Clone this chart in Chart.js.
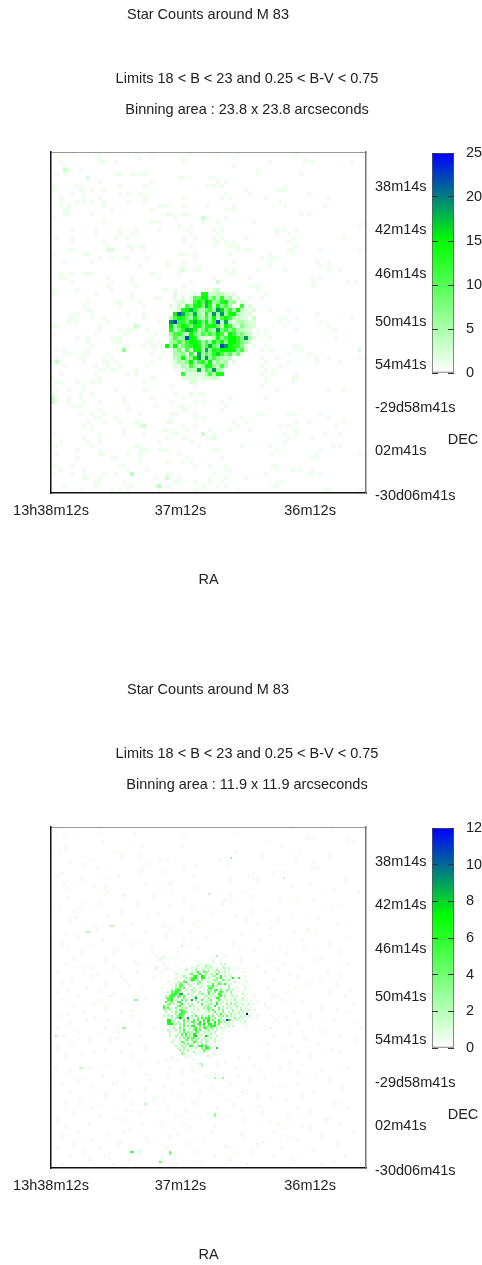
<!DOCTYPE html>
<html><head><meta charset="utf-8">
<script src="https://cdn.jsdelivr.net/npm/chart.js@4"></script>
<style>html,body{margin:0;padding:0;background:#fff;overflow:hidden}canvas{position:absolute}</style>
</head><body>
<canvas id="p1" width="482" height="590" style="left:0;top:0"></canvas>
<canvas id="b1" width="62" height="250" style="left:420px;top:140px"></canvas>
<canvas id="p2" width="482" height="590" style="left:0;top:675px"></canvas>
<canvas id="b2" width="62" height="250" style="left:420px;top:815px"></canvas>
<script>
const mainTitle="Star Counts around M 83";
const limitsTitle="Limits 18 < B < 23 and 0.25 < B-V < 0.75";
const binTitles=["Binning area : 23.8 x 23.8 arcseconds","Binning area : 11.9 x 11.9 arcseconds"];
const raLabels=["13h38m12s","37m12s","36m12s"];
const raTicks=[0,32.9,65.8];
const decLabels=["38m14s","42m14s","46m14s","50m41s","54m41s","-29d58m41s","02m41s","-30d06m41s"];
const decTicks=[8,18.75,29.75,41.75,52.5,63.25,74,85.25];
const colorMax=[25,12];
const colorStep=[5,2];

// Upper map: faint cells (count 1) per row of 23.8" bins, listed by column
const topFaint=[
[2,5,11,12,21,25,34,35,42,47,61,62],[12,22,33,46,64],[2,12,13,16,33,55,64,65,66,76],[3,46],[4,7,52,3],
[1,3,16,17,20,21,22,23,24,52,63],[9,32,33,40,41],[12,25,42,44],[0,6,7,17,23,24,39,41,43,59],[0,7,8,10,13,49,57,58,59],
[5,8,17,19,22,44,50,65],[2,8,12,23,24,33,43,45,54,70],[2,6,8,10,13,19,23,58],[2,4,13,27,28,29,33,39,46,59,69],[3,4,15,25,44,45,46],
[3,4,10,29,30,33,34,63,65],[0,31,39,44],[13,25,26,27,38,42,51,79],[32,35,78],[5,11,17,21,27,34,41,43,57,59,62],
[11,17,20,21,35,42,57,60],[1,5,16,19,33,36,41,43,49,61,74],[5,13,33,41,42,44,46,60],[14,19,20,22,23,35,41,45,46,47,61,62],[4,5,14,15,20,23,47,49,50,60,61,68,78],
[0,8,9,32,33,36,45,55,61],[12,15,18,19,24,36,53,55,56,57],[3,10,29,33,46,55,67,70],[22,29,33,37,55,68,70],[32,36,37,44,46,52,59,70,73],
[2,4,5,8,9,10,25,26,32,45,46],[2,3,14,20,27,41,50,66,68],[5,15,20,35,42,66,75,77],[14,21,33,50,51,52,66],[0,6,15,28,29,52],
[0,11,20,54],[20,26,27,50],[9,16,17,22,49],[8,17,23,49],[9,10,55,60],
[5,6,10,19,23,67],[4,5,10,13,23,58,59,62,76],[4,6,14,27,58,60,68],[0,1,12,21,22,59,70],[12,17,19,20,21,24,54,62,71,72],
[0,11,18,19,26,28,52,54],[6,9,15,16,17,25,55,72],[9,16,17,24,25,27,49],[10,18,19,23,25,26,54,61,62],[1,3,9,26,53,55,56,62,63],
[3,4,8,9,14,25,60,65],[1,7,8,13,15,27,53,57,67,70,78],[0,8,13,14,16,25,54,60,67,73],[3,11,14,17,24,53,58],[12,13,15,16,21,54,56],
[2,11,19,21,53,56,62],[0,12,25,26,54,61,62],[1,2,6,10,11,12,23,54,61],[0,8,30,53],[1,4,8,16,23,24,57,70,74],
[0,7,10,31,37,38],[0,4,7,18,25,33,45,54],[0,4,8,12,18,30,36,38,43],[5,6,7,19,26,32,33,44],[12,19,33,34,43],
[7,10,13,22,30,31,36,52,53,60,61,68],[11,12,16,30,36,38,48,70],[9,13,17,21,22,29,30,46,49,62,65,74],[8,10,22,23,33,36,47,58,60,72],[10,18,28,29,34,40,45,50,61,62],
[0,12,18,23,30,31,41,59,62,69,73],[8,12,29,33,34,39,40,41,60,66],[2,9,12,27,35,59],[1,10,21,22,37,48,55,71,73],[6,12,22,23,24,27,28,29,41,42,57,68],
[1,12,13,19,22,32,56,67,78],[6,15,16,22,34,43,66,67],[22,29,33,35],[0,5,17,18,36,40,44,56,57],[2,8,19,24,44,45,57,61,63,66],
[0,5,8,13,16,29,30,41,54,65,66,68],[8,9,12,26,29,32,40,44,49],[11,12,18,31,32,36,40,43,57,58],[3,11,19,20,26,29,38,42,44,56,57],[7,15,17,19,27,30,36,37,39,47,69,70,78]
];
// Upper map: brighter isolated cells [column,row,count]
const topBright=[[18,49,6],[20,80,4],[27,83,4],[23,68,3],[21,43,3],[14,24,2],[15,24,2],[3,4,3],[9,6,2],[29,81,3],[78,49,2],[1,52,3],[0,61,3],[0,62,3],[42,32,3],[38,16,3],[38,70,3],[41,71,2],[35,60,2],[33,29,2]];
// Upper map: core rows 34..58, columns 28..53, one base-36 count per column
const topCoreRow=34, topCoreCol=28;
const topCore=[
"...1.......1.23...........",
"...2.1.12.ee2344212.......",
"...2.2.2a9ff5a4c35.2.....1",
"...123.2cf9hf57de56.2.....",
"..2.3.b6ef7hd3f6b5..c.2...",
"...13dfid549c6jg6c5f4212..",
"...fmib7i63d5j5j6ef5322...",
"..4bfd85f64b5f3bfb5322.3..",
"..jmcc7fif8f6dm4i3245322..",
"..g5bfd7fe6deea3fc427432..",
"..e48dihe38e85j8c7b5432.1.",
"..6bc64f85b6c7fb3fc5843...",
"..4b57mfd32214e6bffc7j52..",
"..57b6cfec4b5f8f6ffc862...",
".f4f38bdfd5bia7mjfdc72.1..",
"...582b3ef4i6ecfffe7b3....",
"...5572c2i5b6dgb6a382.....",
"...45f37fj6j6b6534........",
"..12547f4bd5f3645.2.......",
"...2153b546ee63b4.........",
"...1.2444i3b7j64..........",
".....c122225b4ee..........",
".....2222122232...........",
".......22.1...............",
"........1................."
];

// Lower map: faint cells of 11.9" bins, [row, column, column, ...]
const lowFaint=[
[0,5,24,71,122],[1,142],[3,25,42,68,93],[5,6,67,130,133],[6,151],[7,26,109,153],[9,46,66,117],[10,7],[12,4,93,33,126],[14,35,44,107,141],[15,59],[16,20,55,85,124],[17,9,133],[18,16,49,90],[19,73],[20,23,67,132,135],
[21,46],[22,44,57,113,118],[23,5,102],[24,2,34,72,100],[25,29],[26,15,91,104,149],[27,61],[28,6,47,60,131],[29,22,122],[30,8,27,73,112],[31,143],[32,28,61,97,156],[33,37],[34,36,52,91,101],[35,8,125],
[36,67,88,116,133],[37,17],[38,24,43,87,124],[39,60,146],[40,4,14,71,142],[41,109],[42,11,35,82,102],[43,54],[44,28,49,93,122],[45,12,135],[46,9,66,99,115],[47,75],[48,41,72,104,145],[49,21,57],[50,2,23,60,111],
[51,86,130],[52,48,70,123,134],[53,7,96],[54,13,37,58,112],[55,78,150],[56,26,67,105,127],[57,44],[58,5,40,92,141],[59,20,116],[60,8,51,74,128],[61,33,103],[62,15,31,64,147],[63,119],[65,61,137],[66,11,27,54,110,134],
[67,42],[68,7,44,118,151],[69,21,104],[70,16,31,115,126],[71,140],[72,3,43,108,139],[73,23,121],[74,20,35,125,147],[75,52],[76,10,37,113],[77,136],[78,5,27,130,145],[79,39],[80,18,45,109,124],[81,8,152],
[82,3,24,120,141],[83,31,113],[84,13,30,112,149],[85,47],[86,6,37,117,132],[87,25,127],[88,21,44,108,153],[89,11],[90,27,110,137],[91,41,145],[92,16,35,123,150],[93,8],[94,4,41,112,131],[95,22,119],[96,18,29,114,143],
[97,37,155],[98,9,44,125],[99,108],[100,3,27,52,111,157],[101,136],[102,13,34,121,139],[103,24],[104,6,45,113,147],[105,33,128],[106,19,30,129,155],[107,11],[108,10,39,110,135],[109,122],[110,3,48,118],[111,27,142],
[112,22,35,125,147],[113,15],[114,7,41,70,110,131],[115,100],[117,54,88],[118,14,44,76,84,121],[119,29,103],[120,2,19,60,93,116,151],[121,71,137],[122,9,37,66,105,125],[123,48,83],[124,0,26,59,78,95,134],[125,17,108],
[126,13,50,73,100,141],[127,33,90],[128,5,31,66,91,125],[129,57,116],[130,21,47,82,112,148],[131,39,99],[132,9,61,75,97,133],[133,28,86],[134,27,37,65,104,127],[135,52,111],[136,14,57,89,119],[137,71,146],[138,7,41,73,92,143],
[139,24,105],[140,21,59,84,125,151],[141,38,96],[142,11,45,68,107,131],[143,79],[144,25,63,89,120],[145,33,140],[146,3,37,75,98,139],[147,56,110],[148,19,46,67,115,146],[149,83,127],[150,7,55,70,118,131],[151,39],
[152,13,36,81,113,153],[153,64,96],[154,5,29,60,97,137],[155,48,120],[156,21,49,77,125],[157,35,107],[158,11,34,69,104,145],[159,88],[160,3,25,58,89,117],[161,44,133],[162,16,45,73,101,132],[163,29,93],[164,9,27,83,113,149],
[165,56,122],[166,19,39,67,91,123],[167,75,143],[168,5,31,63,99,137,157]
];
// Lower map: brighter isolated cells [column,row,count]
const lowBright=[[30,49,2],[31,49,2],[18,52,2],[19,52,2],[37,100,3],[36,100,3],[40,162,5],[41,162,5],[55,167,5],[60,162,4],[60,163,4],[83,143,3],[83,144,3],[47,138,3],[48,138,2],[42,86,3],[43,86,3],[66,59,2],[84,64,3],[91,15,3],[118,25,2],[80,33,2],[2,104,3],[83,125,3],[87,125,3],[14,120,2],[15,120,2],[75,118,2],[76,118,2],[76,119,2]];
// Lower map: core rows 64..116, columns 50..105, one base-36 count per column
const lowCoreRow=64, lowCoreCol=50;
const lowCore=[
"...1...1..............................1................",
".....1.1.....1.........................................",
"......1.........................1...1.........1........",
"................1.......1.......1......................",
".......1.................1..1.1.....2.2................",
"....1........1.......1..2..13.12..1..1.................",
"...2.....1........1..1.2..1.2.12..1..22.2..1.1.........",
"........1.........2..1.3..12..2.1.31..1.1..............",
"......1..........1...2.26..532...2.3.12.1.......1......",
".............2..1.1.34..36..3..22.51..1.1...............",
"...............1.3...256..75..1.23..6.2..2......1......",
".............1..1.3.2467..66..2...326..1.1...6.........",
".............1...2..366.3.3..1..233..42.3.......1......",
".........1..1.22.55..2..34...2.1.2.32..2...2.....1.....",
".............2.44..3..1.4.1...1.5.254..1.1.....1.......",
"...........1.2.55...2...1.2..3.36.2...1.3.......1..1...",
"......1......334.5.1..2..2.1..553...2...3.1.1...1......",
"...........3.565..2..3.2...1.3.4.56.4..42.2.....1......",
".........2.4465.2...1.3..3...35..4.363.2.3..1..1.......",
"..........2566.29..3.1..2.42..5.3..65.2..21....2.1.....",
"........2.566.55.5...2.3.1..3..2.2.46.3..12.2...1....1.",
"........3556..3..4.1..2.1..2.23..165..2..1.2...2....1..",
".........556.2..5.4..9.3..5..2.4...52..2.1.3.1.2.1.....",
"........5.25..55..2.1...3.1.3..2..42.2.1.2..2.1..1.1..1",
".........34.2..36..2.3..1.5..2.3..1.2..3.3.3.1.2..2.1..",
".......5.3...135.2..4.2...2.3.3..6.1.2..2.1.3..1.1.....",
".......625.1.3..2.4...2.2..3.5.3...4.2.3.2..2.2.1..1...",
".......22.3..2.553.1..1.2...2.4.5..3.3..1.3.1.2.1.2..1.",
"........2..2.3.2653..2...1..1.2..5.1.4..2.2..2.2.2.....",
".......1.2...3.654.1..2....1.1..2.3.6.2..3.2.2.1.2.1...",
".......2.2.3..555..1.3.5..3.1.5.4..3.4.5.2.1..2.2.2...1",
"........1..2.3395..3.2..4.6.6.62.4..3.1..1.3.2.2.1..1..",
".........77.2..1.5.4..5.5..6.77.5..6.3.1.2..2.1.1......",
".........77.2.3..4.3.55..7.5.76..7.54.3.1.1...1.2......",
".........66..3.3.4..2.3.56.7..67.6.5.1.2.1.....1.......",
"............2..2.5.4.66..4.5.4.666.2..1.2.2......1.....",
"..........1.3..4.3..2.36.4.65..43.2.2.1.........1......",
".........2...3.2.6..1.46.5..3.3.2.2..1.................",
"..........2..1.3.5.4.3.54..2.2.1.2......1..............",
"..........1...2.5.6.3.74..2..1.3.1..1..................",
"..........2..3..4.5.3.68.2...3....2....................",
".............1.2.4.6.45.3..2.1.2.1.....................",
"............2..2..43.4.4..2.3.1..2.....................",
"...........2..1.53.2..63.2..2.1..2.....................",
"............1..2.3.4.3..2.4.2..1.......................",
".............2..3.2.64..3.5.6.2..1.....................",
"..............2..3...1.3..4.67.2..1....................",
"...............3.2.3.1...1.53.2........................",
"................3..1..3.1..3...........................",
"................32.....1.1.......1.....................",
"..................1..........2.........................",
"...........1......1..........................1.........",
"........1.....1......1................................."
];
// Lower map: notable high cells [column,row,count]
const lowPeak=[[92,75,7],[73,85,9],[65,83,8],[99,93,12],[89,96,11],[69,95,9],[78,104,8],[75,109,7],[84,110,7],[60,97,7],[61,98,7],[60,98,7],[84,88,7],[88,78,6],[90,96,7]];

function colorOf(v,max){
  const t=Math.min(1,v/max);
  if(t<=.6){const c=Math.round(255*(1-t/.6));return `rgb(${c},255,${c})`;}
  const u=(t-.6)/.4;
  return `rgb(0,${Math.round(255*(1-u))},${Math.round(255*u)})`;
}
function buildCells(faintRows,rowsHaveIndex,bright,core,coreRow,coreCol,unit){
  const m=new Map();
  const put=(c,r,v)=>m.set(c+":"+r,{x:(c+.5)*unit,y:(r+.5)*unit,v});
  faintRows.forEach((row,i)=>{
    if(rowsHaveIndex){row.slice(1).forEach(c=>put(c,row[0],1));}
    else row.forEach(c=>put(c,i,1));
  });
  core.forEach((s,i)=>{[...s].forEach((ch,j)=>{
    if(ch!=="."){put(coreCol+j,coreRow+i,parseInt(ch,36));}
  });});
  bright.forEach(b=>put(b[0],b[1],b[2]));
  return [...m.values()];
}
const textFont='14.5px "Liberation Sans", Arial, sans-serif';
const inkColor='#222';
const textPlugin={id:'panelText',afterDraw(chart,args,opts){
  const c=chart.ctx;c.save();c.font=textFont;c.fillStyle=inkColor;c.textAlign='center';c.textBaseline='middle';
  opts.lines.forEach(l=>c.fillText(l[0],l[1],l[2]));c.restore();
}};
// Keeps the square cells on whole device pixels so they stay crisp
const snapPlugin={id:'snapCells',beforeDatasetsDraw(chart){
  chart.getDatasetMeta(0).data.forEach(p=>{p.x=Math.round(p.x);p.y=Math.round(p.y);});
}};
function fixed(prop,v){return s=>{s[prop]=v;};}
function panel(id,cells,max,radius,binTitle){
  return new Chart(document.getElementById(id),{
    type:'scatter',
    data:{datasets:[{data:cells,pointStyle:'rect',pointRadius:radius,pointHoverRadius:radius,pointBorderWidth:0,
      pointBackgroundColor:c=>colorOf(c.raw?c.raw.v:0,max)}]},
    plugins:[textPlugin,snapPlugin],
    options:{responsive:false,animation:false,events:[],devicePixelRatio:1,
      layout:{padding:{left:51,top:152,right:0,bottom:0}},
      plugins:{legend:{display:false},tooltip:{enabled:false},title:{display:false},
        panelText:{lines:[[mainTitle,208,15],[limitsTitle,247,79],[binTitle,247,110],["DEC",463,440]]}},
      scales:{
        x:{type:'linear',position:'bottom',min:0,max:80,
          afterBuildTicks:s=>{s.ticks=raTicks.map(v=>({value:v}));},afterFit:fixed('height',97),
          grid:{display:false,drawTicks:false},border:{color:'#111',width:1.5,z:2},
          ticks:{padding:9,color:inkColor,font:{family:'"Liberation Sans"',size:14.5},maxRotation:0,minRotation:0,autoSkip:false,callback:(v,i)=>raLabels[i]},
          title:{display:true,text:'RA',color:inkColor,font:{family:'"Liberation Sans"',size:14.5},padding:{top:0,bottom:1}}},
        xTop:{type:'linear',position:'top',min:0,max:80,afterFit:fixed('height',0),
          grid:{display:false,drawTicks:false},border:{color:'#999',width:1,z:2},ticks:{display:false}},
        y:{type:'linear',position:'left',reverse:true,min:0,max:85.25,afterFit:fixed('width',0),
          grid:{display:false,drawTicks:false},border:{color:'#111',width:1.5,z:2},ticks:{display:false}},
        yDec:{type:'linear',position:'right',reverse:true,min:0,max:85.25,
          afterBuildTicks:s=>{s.ticks=decTicks.map(v=>({value:v}));},afterFit:fixed('width',116),
          grid:{display:false,drawTicks:false},border:{color:'#777',width:1.5,z:2},
          ticks:{padding:9,labelOffset:3,color:inkColor,font:{family:'"Liberation Sans"',size:14.5},autoSkip:false,callback:(v,i)=>decLabels[i]}}
      }}
  });
}
function colorbar(id,max,step){
  return new Chart(document.getElementById(id),{
    type:'bar',
    data:{labels:['counts'],datasets:[{data:[[0,max]],barPercentage:1,categoryPercentage:1,borderWidth:1,borderColor:'#555',borderSkipped:false,
      backgroundColor:c=>{
        const y=c.chart.scales.y; if(!y) return '#0f0';
        const y0=y.getPixelForValue(0), y1=y.getPixelForValue(max);
        if(!Number.isFinite(y0)||!Number.isFinite(y1)) return '#0f0';
        const g=c.chart.ctx.createLinearGradient(0,y0,0,y1);
        g.addColorStop(0,'#ffffff');g.addColorStop(.6,'#00ff00');g.addColorStop(1,'#0000ff');return g;
      }}]},
    options:{responsive:false,animation:false,events:[],devicePixelRatio:1,
      layout:{padding:{left:12,top:13,right:0,bottom:17}},
      plugins:{legend:{display:false},tooltip:{enabled:false}},
      scales:{
        x:{display:false},
        y:{position:'right',min:0,max:max,
          afterFit:s=>{s.width=28;s.paddingTop=0;s.paddingBottom=0;},
          ticks:{stepSize:step,padding:12,color:inkColor,font:{family:'"Liberation Sans"',size:14.5}},
          grid:{z:1,drawTicks:false,color:'#333',lineWidth:1},
          border:{display:false,dash:[6,10,6]}}
      }}
  });
}
panel('p1',buildCells(topFaint,false,topBright,topCore,topCoreRow,topCoreCol,1),colorMax[0],Math.SQRT2*2,binTitles[0]);
panel('p2',buildCells(lowFaint,true,lowBright.concat(lowPeak),lowCore,lowCoreRow,lowCoreCol,.5),colorMax[1],Math.SQRT2,binTitles[1]);
colorbar('b1',colorMax[0],colorStep[0]);
colorbar('b2',colorMax[1],colorStep[1]);
</script>
</body></html>
